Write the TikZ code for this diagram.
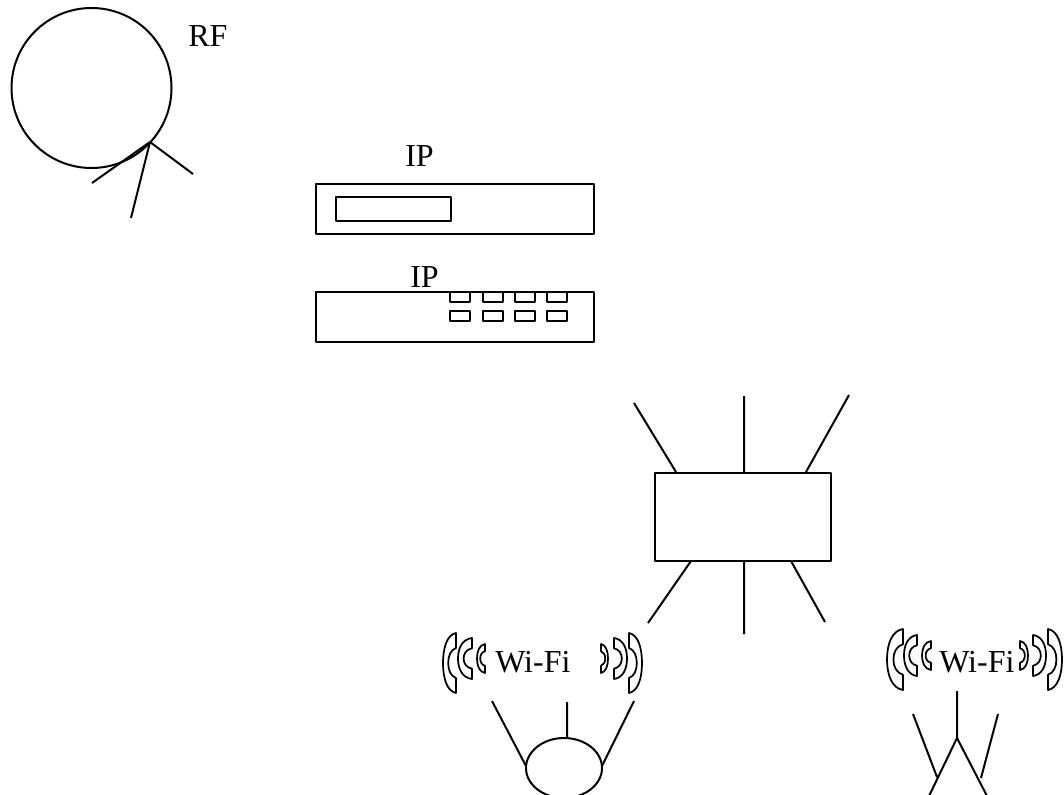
\documentclass[tikz,border=0pt]{standalone}
\usepackage{fontspec}
\setmainfont{Liberation Serif}
\usetikzlibrary{shapes.geometric}
\tikzset{
  line/.style={draw=black,line width=1.5pt,line join=round},
  box/.style={line,inner sep=0pt,outer sep=0pt,minimum width=#1},
  lbl/.style={font=\fontsize{24}{24}\selectfont,inner sep=0pt,anchor=base west},
  round shape/.style={line,inner sep=0pt,outer sep=0pt}
}
\newcommand\wifiarc[4]{%
  \begin{scope}[shift={(#1,#3)},xscale=#2-#1,yscale=#4-#3]
  \draw[line,line width=1.3pt] (1,0) .. controls (.3,.03) and (0,.25) .. (0,.5)
    .. controls (0,.75) and (.3,.97) .. (1,1) -- (1,.75)
    .. controls (.6,.72) and (.4,.62) .. (.4,.5)
    .. controls (.4,.38) and (.6,.28) .. (1,.25) -- cycle;
  \end{scope}}
\begin{document}
\begin{tikzpicture}[x=0.75pt,y=-0.75pt]
\useasboundingbox (0,0) rectangle (1064,795);
\clip (0,0) rectangle (1064,795);
% RF
\node[round shape,circle,minimum size=120pt] (rf) at (91.5,88) {};
\node[lbl] (rflabel) at (188,47) {RF};
\coordinate (rfj) at (150,142);
\coordinate (rfa) at (92,183);
\coordinate (rfb) at (131,218);
\coordinate (rfc) at (193,174);
\draw[line] (rfa) -- (rfj) (rfb) -- (rfj) (rfc) -- (rfj);
% IP boxes
\node[lbl] (ip1label) at (405,167) {IP};
\node[box=208.5pt,minimum height=37.5pt] (ip1) at (455,209) {};
\node[box=86.25pt,minimum height=18pt] (ip1d) at (393.5,209) {};
\node[lbl] (ip2label) at (410,287) {IP};
\node[box=208.5pt,minimum height=37.5pt] (ip2) at (455,316.5) {};
\foreach \n/\x in {a/459.5,b/493,c/525,d/557}{
  \node[box=15pt,minimum height=7.5pt] (p\n1) at (\x,297) {};
  \node[box=15pt,minimum height=7.5pt] (p\n2) at (\x,316) {};
}
% hub
\node[box=132pt,minimum height=66pt] (hub) at (743,517) {};
\coordinate (h1s) at (676,472); \coordinate (h1e) at (634,403);
\coordinate (h2s) at (744,473); \coordinate (h2e) at (744,396);
\coordinate (h3s) at (806,472); \coordinate (h3e) at (849,395);
\coordinate (h4s) at (691,561); \coordinate (h4e) at (648,623);
\coordinate (h5s) at (744,561); \coordinate (h5e) at (744,634);
\coordinate (h6s) at (791,561); \coordinate (h6e) at (825,622);
\draw[line] (h1s)--(h1e) (h2s)--(h2e) (h3s)--(h3e) (h4s)--(h4e) (h5s)--(h5e) (h6s)--(h6e);
% Wi-Fi 1
\wifiarc{443}{456}{633}{693}
\wifiarc{458}{472}{638}{679}
\wifiarc{477}{485}{644}{673}
\wifiarc{608}{601}{644}{673}
\wifiarc{627}{614}{638}{679}
\wifiarc{642}{629}{633}{693}
\node[lbl] (wifi1) at (495,672) {Wi-Fi};
% Wi-Fi 2
\wifiarc{887}{903}{629}{690}
\wifiarc{904}{917}{635}{676}
\wifiarc{922}{931}{641}{670}
\wifiarc{1028}{1020}{641}{670}
\wifiarc{1046}{1033}{635}{676}
\wifiarc{1062}{1048}{629}{690}
\node[lbl] (wifi2) at (939,672) {Wi-Fi};
% client 1
\node[round shape,ellipse,minimum width=57pt,minimum height=45pt] (oval) at (564,768) {};
\coordinate (o1) at (492,701); \coordinate (o2) at (567,702); \coordinate (o3) at (634,701);
\coordinate (o1e) at (526,766); \coordinate (o3e) at (602,766);
\draw[line] (o1)--(o1e) (o2)--(567,738) (o3)--(o3e);
% client 2
\coordinate (v) at (957,738);
\coordinate (va) at (929,796); \coordinate (vb) at (987,796);
\coordinate (vt) at (957,691);
\coordinate (vl) at (913,714); \coordinate (vle) at (937,777);
\coordinate (vr) at (998,714); \coordinate (vre) at (981,778);
\draw[line] (va)--(v)--(vb) (v)--(vt) (vl)--(vle) (vr)--(vre);
\end{tikzpicture}
\end{document}
